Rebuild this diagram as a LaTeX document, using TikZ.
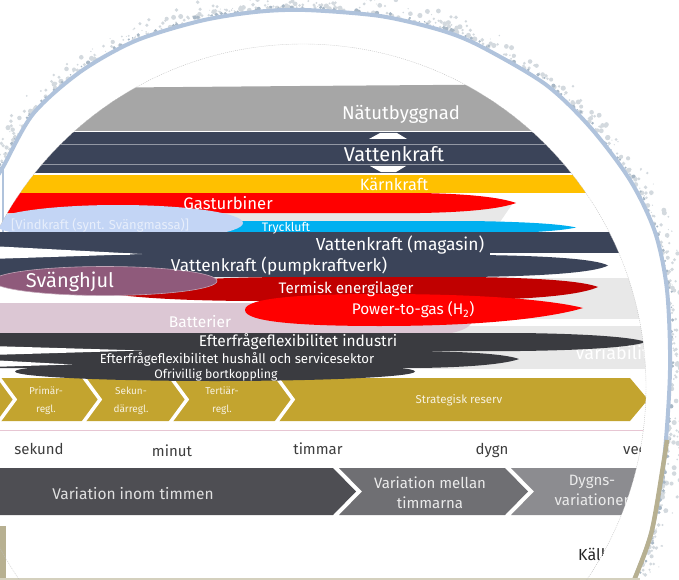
\documentclass[tikz,border=0pt]{standalone}
\usepackage{fontspec}
\setmainfont{Fira Sans}
\usepackage{xcolor}

\definecolor{netgray}{HTML}{A6A6A6}
\definecolor{hydro}{HTML}{3B4459}
\definecolor{nuclear}{HTML}{FFC000}
\definecolor{gasred}{HTML}{FF0000}
\definecolor{windblue}{HTML}{C3D5F5}
\definecolor{airblue}{HTML}{00B0F0}
\definecolor{flywheel}{HTML}{8F5A7B}
\definecolor{thermred}{HTML}{C00000}
\definecolor{battery}{HTML}{DCC7D4}
\definecolor{demand}{HTML}{3A3B40}
\definecolor{reserve}{HTML}{C3A42F}
\definecolor{varA}{HTML}{4E4E53}
\definecolor{varB}{HTML}{6F6F73}
\definecolor{varC}{HTML}{8C8C90}
\definecolor{stripegray}{HTML}{E8E8E8}
\definecolor{ringblue}{HTML}{B0C3DC}
\definecolor{khaki}{HTML}{B7B091}
\definecolor{splatgray}{HTML}{D3D9DE}
\definecolor{splatdark}{HTML}{A9B8C6}
\definecolor{axistext}{HTML}{3D3D3D}

\tikzset{
  lbl/.style={inner sep=0pt, text=white, font=\fontsize{#1}{#1}\selectfont},
  lbl/.default=15,
  stripe/.style={fill=stripegray},
  splat/.style={fill=splatgray},
  splatnear/.style={fill=splatdark},
  lensring/.style={draw=ringblue, line width=4},
  dashline/.style={white, line width=0.8, dash pattern=on 1.5pt off 1.5pt},
  hairline/.style={draw=hydro!55!white, line width=0.6},
  sep/.style={white, line width=3.5},
  goldtxt/.style={text=reserve!15!white, align=center}
}

\begin{document}
\begin{tikzpicture}[x=1pt, y=-1pt]
\useasboundingbox (0,0) rectangle (679,580);

% Splatter outside the lens rim
\pgfmathsetseed{11}
\foreach \ax/\ay/\bx/\by in {-8/184/3/167, 3/167/33/114, 33/114/80/72, 80/72/135/41,
    135/41/200/21, 200/21/255/12, 255/12/305/10, 305/10/380/16, 380/16/440/30,
    440/30/480/46, 480/46/545/84, 545/84/590/127, 590/127/630/180, 630/180/655/232,
    655/232/667/290, 667/290/670/370, 670/370/664/460, 664/460/652/530, 652/530/637/573}{
  \pgfmathsetmacro\len{veclen(\bx-\ax,\by-\ay)}
  \foreach \k in {1,...,30}{
    \pgfmathsetmacro\tt{rnd}
    \pgfmathsetmacro\dd{2.5+20*rnd*rnd}
    \pgfmathsetmacro\px{\ax+\tt*(\bx-\ax)+\dd*(\by-\ay)/\len}
    \pgfmathsetmacro\py{\ay+\tt*(\by-\ay)-\dd*(\bx-\ax)/\len}
    \pgfmathsetmacro\sz{0.5+2.1*rnd}
    \fill[splat] (\px,\py) circle (\sz);
  }
  \foreach \k in {1,...,8}{
    \pgfmathsetmacro\tt{rnd}
    \pgfmathsetmacro\dd{2+3*rnd}
    \pgfmathsetmacro\px{\ax+\tt*(\bx-\ax)+\dd*(\by-\ay)/\len}
    \pgfmathsetmacro\py{\ay+\tt*(\by-\ay)-\dd*(\bx-\ax)/\len}
    \pgfmathsetmacro\sz{0.6+1.6*rnd}
    \fill[splatnear] (\px,\py) circle (\sz);
  }
}

% Lens rim
\draw[lensring] plot[smooth] coordinates {(-8,184) (3,167) (33,114) (80,72) (135,41) (200,21)
    (255,12) (305,10) (380,16) (440,30) (480,46) (545,84) (590,127) (630,180)
    (655,232) (667,290) (670,370) (664,460) (652,530) (637,573) (625,600)};
\draw[khaki, line width=4.5] plot[smooth] coordinates {(667,440) (664,460) (652,530) (637,573) (625,600)};
\draw[ringblue, line width=2] (3,167) -- (3,262);
\fill[khaki] (0,526) rectangle (6,580);
\draw[khaki!60, line width=2] (0,579) -- (640,579);

% Chart seen through the lens
\begin{scope}
\clip (303,387) circle (343);

% Grey rows behind
\fill[stripe] (-50,203) -- (513,203) -- (500,222) -- (-50,222) -- cycle;
\fill[stripe] (440,278) rectangle (700,319);
\fill[stripe] (420,326) rectangle (700,369);
\node[lbl=18, anchor=west] (variab) at (575,353) {Variabilitet};

% Grid and hydro
\fill[netgray] (-50,89) -- (300,86) -- (700,83) -- (700,131) -- (-50,131) -- cycle;
\fill[hydro] (-50,132) rectangle (700,173);
\draw[hairline] (-50,144) -- (700,144) (-50,164.5) -- (700,164.5);
\draw[dashline] (-50,131.5) -- (700,131.5);
\draw[dashline] (-50,173.5) -- (700,173.5);
\fill[white] (380,133) -- (397,133) -- (407,139) -- (369,139) -- cycle;
\fill[white] (370,166) -- (406,166) -- (396,172) -- (381,172) -- cycle;
\fill[nuclear] (-50,174.5) rectangle (700,193);

% Gas turbines, compressed air, wind
\fill[gasred] (-50,193) -- (420,193) .. controls (480,194) and (505,199) .. (516,203)
  .. controls (505,207) and (480,212) .. (420,213) -- (-50,213) -- cycle;
\fill[airblue] (150,221) -- (470,221) .. controls (540,222) and (565,225) .. (576,227.5)
  .. controls (565,230) and (540,233) .. (470,234) -- (150,234) -- cycle;
\fill[windblue] (118,223) ellipse (125 and 18);

% Hydro reservoir and pumped storage
\fill[hydro] (-50,232) rectangle (700,253);
\fill[hydro] (-50,255) -- (480,255) .. controls (560,256) and (598,260) .. (608,265.5)
  .. controls (598,271) and (560,276) .. (470,277) -- (-50,277) -- cycle;
\fill[hydro] (130,251) rectangle (490,257);
\fill[white] (-10,246) -- (142,254) -- (-10,259) -- cycle;

% Thermal storage, flywheel
\fill[thermred] (100,292) .. controls (160,279) and (230,277) .. (300,277) -- (470,277)
  .. controls (550,278) and (585,282) .. (598,287) .. controls (585,293) and (550,299) .. (470,300)
  -- (260,301) .. controls (190,301) and (130,298) .. (100,292) -- cycle;
\fill[flywheel, draw=flywheel!55!white, line width=0.6] (105,281) ellipse (112 and 14.5);

% Batteries, power-to-gas
\fill[battery] (-50,303) -- (400,303) .. controls (450,303) and (472,310) .. (472,320)
  .. controls (472,330) and (450,337) .. (400,337) -- (-50,337) -- cycle;
\fill[gasred] (245,310) .. controls (245,298) and (300,294) .. (380,294)
  .. controls (500,294) and (560,302) .. (583,308) .. controls (560,315) and (500,326) .. (380,326)
  .. controls (300,326) and (245,322) .. (245,310) -- cycle;

% Reserve chevrons
\fill[reserve] (-50,378) -- (630,378) -- (648,399.5) -- (630,421) -- (-50,421) -- cycle;
\foreach \t in {15,100,187,293}
  \draw[sep] (\t-18,375) -- (\t,399.5) -- (\t-18,424);

% Demand side
\fill[demand] (-50,333) -- (520,333) .. controls (600,334) and (635,338) .. (646,342)
  .. controls (635,346) and (600,350) .. (520,351) -- (-50,351) -- cycle;
\fill[demand] (-50,351) -- (420,351) .. controls (480,352) and (508,355) .. (519,359)
  .. controls (508,363) and (480,367) .. (420,368) -- (-50,368) -- cycle;
\fill[white] (-10,346) -- (142,350.5) -- (-10,355) -- cycle;
\fill[demand] (215,371.5) ellipse (200 and 9.5);
\fill[white] (-10,360) -- (72,364.5) -- (-10,367) -- cycle;

% Labels on bands
\node[lbl=18.5] (grid) at (401,114) {Nätutbyggnad};
\node[lbl=20] (hydrotop) at (394,154) {Vattenkraft};
\node[lbl=16.3] (nucl) at (394,184) {Kärnkraft};
\node[lbl=16.7] (gas) at (228,203) {Gasturbiner};
\node[lbl=13, text=windblue!40!white] (wind) at (100,225) {[Vindkraft (synt. Svängmassa)]};
\node[lbl=12.3] (air) at (286,228) {Tryckluft};
\node[lbl=17.4] (resv) at (400,245) {Vattenkraft (magasin)};
\node[lbl=17.2] (pump) at (279,266) {Vattenkraft (pumpkraftverk)};
\node[lbl=20] (fly) at (70,282) {Svänghjul};
\node[lbl=15.2] (therm) at (346,289) {Termisk energilager};
\node[lbl=15.4] (ptg) at (413,310) {Power-to-gas (H\textsubscript{2})};
\node[lbl=15.5] (batt) at (200,322) {Batterier};
\node[lbl=15.5] (ind) at (298,342) {Efterfrågeflexibilitet industri};
\node[lbl=13.2] (home) at (237,359) {Efterfrågeflexibilitet hushåll och servicesektor};
\node[lbl=12.3] (cut) at (216,375) {Ofrivillig bortkoppling};

% Reserve labels
\node[lbl=10, goldtxt] (prim) at (46,401) {Primär-\\[8pt]regl.};
\node[lbl=10, goldtxt] (sec) at (131,401) {Sekun-\\[8pt]därregl.};
\node[lbl=10, goldtxt] (tert) at (222,401) {Tertiär-\\[8pt]regl.};
\node[lbl=11.5, goldtxt] (strat) at (459,400) {Strategisk reserv};

% Time axis
\draw[battery!80!purple!60, line width=1] (-50,430) -- (700,430);
\node[lbl=15, text=axistext] (sek) at (39,449) {sekund};
\node[lbl=15, text=axistext] (min) at (172,451) {minut};
\node[lbl=15, text=axistext] (tim) at (318,449) {timmar};
\node[lbl=15, text=axistext] (dyg) at (492,450) {dygn};
\node[lbl=15, text=axistext, anchor=west] (vec) at (623,449) {vecka};

% Variation chevrons
\fill[varA] (-50,468) -- (333,468) -- (356,491.5) -- (333,515) -- (-50,515) -- cycle;
\fill[varB] (339,468) -- (505,468) -- (528,491.5) -- (505,515) -- (339,515) -- (362,491.5) -- cycle;
\fill[varC] (511,468) -- (700,468) -- (700,515) -- (511,515) -- (534,491.5) -- cycle;
\node[lbl=15.5, text=white!88!black] (vinom) at (133,494) {Variation inom timmen};
\node[lbl=15, text=white!92!black, align=center] (vmellan) at (430,493) {Variation mellan\\[5pt]timmarna};
\node[lbl=15, text=white!92!black, align=center] (vdygn) at (592,490) {Dygns-\\[5pt]variationer};

% Source
\node[lbl=16, text=black!85, anchor=west] (src) at (578,554) {Källa};
\end{scope}
\draw[black!25, line width=0.4, dash pattern=on 1pt off 1pt] (303,387) circle (343);
\end{tikzpicture}
\end{document}
